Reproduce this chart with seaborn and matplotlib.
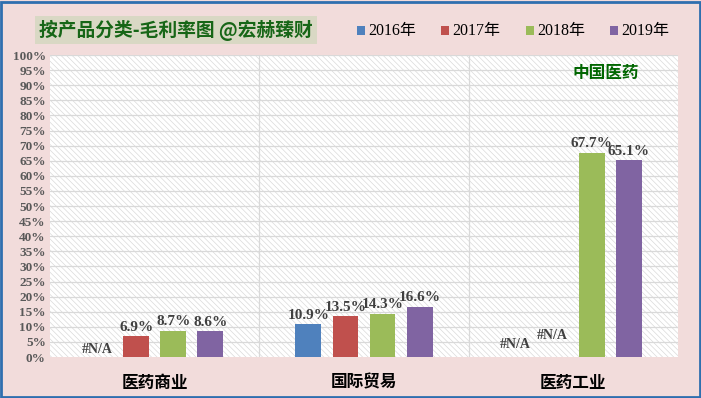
import numpy as np
import pandas as pd
import matplotlib
matplotlib.use("Agg")
import matplotlib.pyplot as plt
from matplotlib.patches import Rectangle
import seaborn as sns

categories = ["医药商业", "国际贸易", "医药工业"]
years = ["2016年", "2017年", "2018年", "2019年"]
v2016 = [np.nan, 10.9, np.nan]
v2017 = [6.9, 13.5, np.nan]
v2018 = [8.7, 14.3, 67.7]
v2019 = [8.6, 16.6, 65.1]
colors = ["#4F81BD", "#C0504D", "#9BBB59", "#8064A2"]

rows = []
for yr, vals in zip(years, [v2016, v2017, v2018, v2019]):
    for c, v in zip(categories, vals):
        rows.append({"cat": c, "year": yr, "val": v / 100.0})
df = pd.DataFrame(rows)

sns.set_theme(style="white")
plt.rcParams["font.family"] = ["Liberation Serif", "Noto Sans CJK SC", "DejaVu Sans"]
plt.rcParams["hatch.linewidth"] = 0.5

fig = plt.figure(figsize=(7.01, 3.98), dpi=100, facecolor="#F2DCDB")
ax = fig.add_axes([50 / 701, 1 - 357 / 398, 628 / 701, 302 / 398])
ax.set_facecolor("white")

# hatched background
ax.add_patch(Rectangle((0, 0), 1, 1, transform=ax.transAxes, facecolor="white",
                       edgecolor="#DADADA", hatch="\\\\\\\\\\\\", linewidth=0, zorder=0))

width = 0.708
sns.barplot(data=df, x="cat", y="val", hue="year", hue_order=years, order=categories,
            palette=colors, width=width, gap=0.3, saturation=1, ax=ax, legend=False,
            zorder=3, errorbar=None, linewidth=0)

ax.set_xlim(-0.5, 2.5)
ax.set_ylim(0, 1.0)
yt = np.arange(0, 1.0001, 0.05)
ax.set_yticks(yt)
ax.set_yticklabels([f"{int(round(t * 100))}%" for t in yt], fontsize=9.5,
                   fontweight="bold", color="#595959")
for t in yt[1:]:
    ax.axhline(t, color="#D9D9D9", linewidth=0.9, zorder=1)
for xb in [0.5, 1.5]:
    ax.axvline(xb, color="#D9D9D9", linewidth=0.9, zorder=1)
ax.tick_params(axis="y", length=0, pad=3)
ax.tick_params(axis="x", length=0, pad=12)
ax.set_xticks(range(len(categories)))
ax.set_xticklabels(categories, fontsize=12, fontweight="bold", color="black",
                   family=["Noto Sans CJK SC"])
ax.set_xlabel("")
ax.set_ylabel("")
for s in ax.spines.values():
    s.set_visible(False)

# data labels
pitch = width / 4
for j, (yr, vals) in enumerate(zip(years, [v2016, v2017, v2018, v2019])):
    for i, v in enumerate(vals):
        xc = i + (j - 1.5) * pitch
        if np.isnan(v):
            continue
        ax.text(xc, v / 100.0 + 0.008, f"{v:.1f}%", ha="center", va="bottom",
                fontsize=11, fontweight="bold", color="#404040", zorder=5)

# #N/A labels
na_pos = [(0, 0, 0.026), (2, 0, 0.04), (2, 1, 0.07)]
for i, j, ypos in na_pos:
    xc = i + (j - 1.5) * pitch - 0.01
    ax.text(xc, ypos, "#N/A", ha="center", va="center", fontsize=10,
            fontweight="bold", color="#404040", zorder=5)

ax.text(0.885, 0.94, "中国医药", transform=ax.transAxes, ha="center", va="center",
        fontsize=12, fontweight="bold", color="#006600", family=["Noto Sans CJK SC"])

# title
fig.text(176 / 701, 1 - 30 / 398, "按产品分类-毛利率图 @宏赫臻财", ha="center", va="center",
         fontsize=13.5, fontweight="bold", color="#176617",
         family=["Noto Sans CJK SC", "DejaVu Sans"],
         bbox=dict(boxstyle="square,pad=0.2", facecolor="#D9D8C4", edgecolor="none"))

# legend
lx = [357, 441, 526, 610]
for x, yr, col in zip(lx, years, colors):
    fig.patches.append(Rectangle((x / 701, 1 - 35 / 398), 8 / 701, 9 / 398,
                                 transform=fig.transFigure, facecolor=col, edgecolor="none"))
    fig.text((x + 11) / 701, 1 - 31 / 398, yr, ha="left", va="center", fontsize=11.5,
             color="black", family=["Liberation Serif", "Noto Sans CJK SC"])

# border
fig.patches.append(Rectangle((0.001, 0.002), 0.997, 0.994, transform=fig.transFigure,
                             facecolor="none", edgecolor="#2F6FAF", linewidth=2))

fig.savefig("out.png", dpi=100, facecolor=fig.get_facecolor())
